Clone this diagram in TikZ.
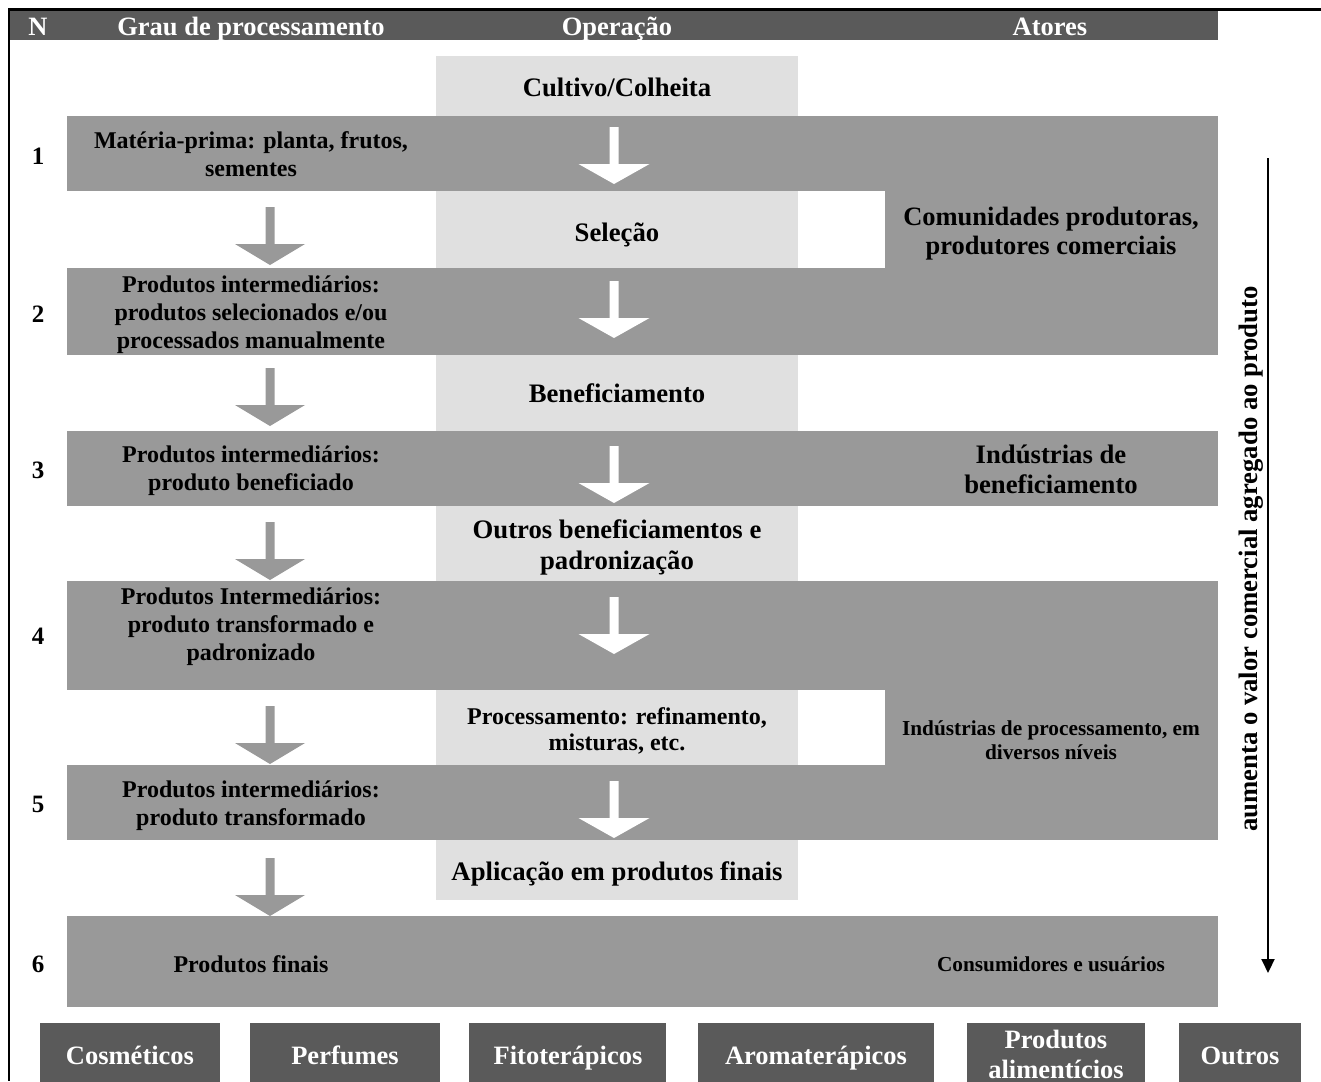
\documentclass[tikz,border=0pt]{standalone}
\usepackage{fontspec}
\setmainfont{Liberation Serif}
\usetikzlibrary{arrows.meta,fit}
\definecolor{hdr}{HTML}{5A5A5A}
\definecolor{band}{HTML}{999999}
\definecolor{light}{HTML}{E0E0E0}
\tikzset{
  rect/.style={inner sep=0pt, outer sep=0pt, draw=none},
  bandbox/.style={rect, fill=band},
  lightbox/.style={rect, fill=light},
  hdrbox/.style={rect, fill=hdr},
  fs/.style n args={2}{font=\bfseries\fontsize{#1}{#2}\selectfont},
  vtxt/.style={align=center, inner sep=0pt, execute at begin node=\strut, execute at end node=\strut},
  txt/.style={vtxt, yshift=-2.5pt},
  garr/.pic={\fill[band] (-4.5,0) -- (4.5,0) -- (4.5,37) -- (35,37) -- (0,58) -- (-35,37) -- (-4.5,37) -- cycle;},
  warr/.pic={\fill[white] (-4.5,0) -- (4.5,0) -- (4.5,37) -- (35.5,37) -- (0,57) -- (-35.5,37) -- (-4.5,37) -- cycle;},
}
\begin{document}
\begin{tikzpicture}[x=1pt,y=-1pt]
\useasboundingbox (0,0) rectangle (1321,1081);
% header
\node[hdrbox, fit={(10,10) (1218,40)}] (hdr) {};
\node[txt, fs={26.5}{30}, text=white] (hN) at (38,27) {N};
\node[txt, fs={26.5}{30}, text=white] (hG) at (251,27) {Grau de processamento};
\node[txt, fs={26.5}{30}, text=white] (hO) at (617,27) {Operação};
\node[txt, fs={26.5}{30}, text=white] (hA) at (1050,27) {Atores};
% frame lines
\coordinate (tl) at (9,9.5);
\coordinate (tr) at (1321,9.5);
\coordinate (bl) at (9,1081);
\draw[line width=2.5pt] (tr) -- (tl) -- (bl);
% bands
\node[bandbox, fit={(67,116) (1218,191)}] (b1) {};
\node[bandbox, fit={(67,268) (1218,355)}] (b2) {};
\node[bandbox, fit={(67,431) (1218,506)}] (b3) {};
\node[bandbox, fit={(67,581) (1218,690)}] (b4) {};
\node[bandbox, fit={(67,765) (1218,840)}] (b5) {};
\node[bandbox, fit={(67,916) (1218,1007)}] (b6) {};
\node[bandbox, fit={(885,116) (1218,355)}] (ra) {};
\node[bandbox, fit={(885,581) (1218,840)}] (rb) {};
% operation boxes
\node[lightbox, fit={(436,56) (798,116)}] (o1) {};
\node[lightbox, fit={(436,191) (798,268)}] (o2) {};
\node[lightbox, fit={(436,355) (798,431)}] (o3) {};
\node[lightbox, fit={(436,506) (798,581)}] (o4) {};
\node[lightbox, fit={(436,690) (798,765)}] (o5) {};
\node[lightbox, fit={(436,840) (798,900)}] (o6) {};
% operation texts
\node[txt, fs={26.7}{31}] (t1) at (617,88) {Cultivo/Colheita};
\node[txt, fs={26.7}{31}] (t2) at (617,233) {Seleção};
\node[txt, fs={26.7}{31}] (t3) at (617,394) {Beneficiamento};
\node[txt, fs={26.7}{31}] (t4) at (617,547) {Outros beneficiamentos e\\padronização};
\node[txt, fs={24}{26}] (t5) at (617,730) {Processamento: refinamento,\\misturas, etc.};
\node[txt, fs={26.7}{31}] (t6) at (617,872) {Aplicação em produtos finais};
% numbers
\node[txt, fs={25}{28}] (n1) at (38,156) {1};
\node[txt, fs={25}{28}] (n2) at (38,314) {2};
\node[txt, fs={25}{28}] (n3) at (38,470) {3};
\node[txt, fs={25}{28}] (n4) at (38,636) {4};
\node[txt, fs={25}{28}] (n5) at (38,804) {5};
\node[txt, fs={25}{28}] (n6) at (38,964) {6};
% degree texts
\node[txt, fs={24}{28}] (g1) at (251,156) {Matéria-prima: planta, frutos,\\sementes};
\node[txt, fs={24}{28}] (g2) at (251,314) {Produtos intermediários:\\produtos selecionados e/ou\\processados manualmente};
\node[txt, fs={24}{28}] (g3) at (251,470) {Produtos intermediários:\\produto beneficiado};
\node[txt, fs={24}{28}] (g4) at (251,626) {Produtos Intermediários:\\produto transformado e\\padronizado};
\node[txt, fs={24}{28}] (g5) at (251,805) {Produtos intermediários:\\produto transformado};
\node[txt, fs={24}{28}] (g6) at (251,964) {Produtos finais};
% actors
\node[txt, fs={26.5}{29}] (a1) at (1051,233) {Comunidades produtoras,\\produtores comerciais};
\node[txt, fs={26.7}{30}] (a2) at (1051,471) {Indústrias de\\beneficiamento};
\node[txt, fs={21.3}{24}] (a3) at (1051,741) {Indústrias de processamento, em\\diversos níveis};
\node[txt, fs={21.3}{24}] (a4) at (1051,964) {Consumidores e usuários};
% block arrows
\pic (ga1) at (270,207) {garr};
\pic (ga2) at (270,368) {garr};
\pic (ga3) at (270,522) {garr};
\pic (ga4) at (270,706) {garr};
\pic (ga5) at (270,858) {garr};
\pic (wa1) at (614,127) {warr};
\pic (wa2) at (614,281) {warr};
\pic (wa3) at (614,446) {warr};
\pic (wa4) at (614,597) {warr};
\pic (wa5) at (614,781) {warr};
% value arrow
\coordinate (vtop) at (1268,158);
\coordinate (vbot) at (1268,973);
\draw[line width=2pt, -{Triangle[length=14pt,width=13pt]}] (vtop) -- (vbot);
\node[vtxt, fs={26.7}{30}, rotate=90] (vlab) at (1251,559) {aumenta o valor comercial agregado ao produto};
% product boxes
\node[hdrbox, fit={(40,1023) (220,1095)}] (p1) {};
\node[hdrbox, fit={(250,1023) (440,1095)}] (p2) {};
\node[hdrbox, fit={(469,1023) (666,1095)}] (p3) {};
\node[hdrbox, fit={(698,1023) (934,1095)}] (p4) {};
\node[hdrbox, fit={(967,1023) (1145,1095)}] (p5) {};
\node[hdrbox, fit={(1179,1023) (1301,1095)}] (p6) {};
\node[txt, fs={26.5}{30}, text=white] (pt1) at (130,1056) {Cosméticos};
\node[txt, fs={26.5}{30}, text=white] (pt2) at (345,1056) {Perfumes};
\node[txt, fs={26.5}{30}, text=white] (pt3) at (568,1056) {Fitoterápicos};
\node[txt, fs={26.5}{30}, text=white] (pt4) at (816,1056) {Aromaterápicos};
\node[txt, fs={26.5}{30}, text=white] (pt5) at (1056,1056) {Produtos\\alimentícios};
\node[txt, fs={26.5}{30}, text=white] (pt6) at (1240,1056) {Outros};
\end{tikzpicture}
\end{document}
